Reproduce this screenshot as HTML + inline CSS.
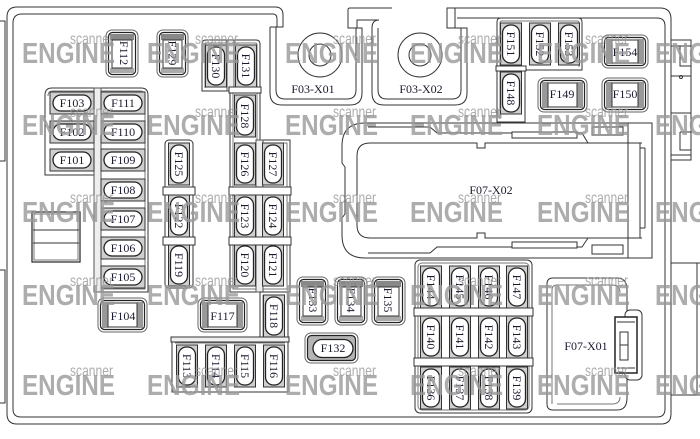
<!DOCTYPE html>
<html><head><meta charset="utf-8"><style>
html,body{margin:0;padding:0;background:#fff;}
svg{display:block;}
.l{fill:none;stroke:#333;stroke-width:1;}
.g{fill:none;stroke:#777;stroke-width:1;}
.t{font-family:"Liberation Serif",serif;font-size:12px;fill:#1a1a2e;text-anchor:middle;}
.wm{font-family:"Liberation Sans",sans-serif;font-weight:bold;font-size:29px;fill:#999;opacity:.8;}
.ws{font-family:"Liberation Sans",sans-serif;font-size:16px;fill:#999;opacity:.8;}
</style></head><body>
<svg width="700" height="439" viewBox="0 0 700 439" xmlns="http://www.w3.org/2000/svg">
<defs>
<g id="vs"><rect x="-10.5" y="-21" width="21" height="42" fill="#cfcfcf" stroke="#333"/><rect x="-8.5" y="-19" width="17" height="38" rx="8" fill="#fff" stroke="#222" stroke-width="1.3"/></g>
<g id="hs"><rect x="-22" y="-11" width="44" height="22" fill="#cfcfcf" stroke="#333"/><rect x="-19" y="-8" width="38" height="16" rx="8" fill="#fff" stroke="#222" stroke-width="1.3"/></g>
</defs>
<rect width="700" height="439" fill="#fff"/>

<!-- left exterior brackets -->
<path class="l" d="M0,21 L5,21 L5,161 L0,161"/>
<path class="l" d="M0,270 L5,270 L5,403 L0,403"/>

<!-- housing -->
<path class="l" d="M275,7 L17,7 Q7,7 7,17 L7,414 Q7,424 17,424 L661,424 Q671,424 671,414 L671,19 Q671,8 660,8 L455,8"/>
<path class="l" d="M273,14 L22,14 Q13,14 13,23 L13,409 Q13,417 21,417 L657,417 Q665,417 665,409 L665,26 Q665,18 657,18 L457,18"/>
<!-- pocket 1 -->
<path class="l" d="M275,7 Q283,7 283,15 L283,27 L270,27"/>
<path class="l" d="M273,14 Q277,14 277,19 L277,27"/>
<path class="l" d="M270,27 L270,93 Q270,105 282,105 L350,105 Q362,105 362,93 L362,28 L348,28 L348,10 Q348,8 350,8 L392,8"/>
<path class="l" d="M276,27 L276,90 Q276,99 285,99 L347,99 Q356,99 356,90 L356,28"/>
<path class="l" d="M357,28 L357,20 L379,20 Q372,20 372,28"/>
<!-- pocket 2 -->
<path class="l" d="M372,28 L372,93 Q372,105 384,105 L455,105 Q467,105 467,93 L467,28 L447,28 L447,8 L455,8 L455,28"/>
<path class="l" d="M378,28 L378,90 Q378,99 387,99 L452,99 Q461,99 461,90 L461,28"/>
<circle cx="320" cy="55" r="22" class="l"/><circle cx="320" cy="55" r="11" class="l"/>
<circle cx="420" cy="55" r="22" class="l"/><circle cx="420" cy="55" r="11" class="l"/>
<text class="t" x="313" y="93">F03-X01</text>
<text class="t" x="421" y="93">F03-X02</text>

<!-- right exterior -->
<path class="l" d="M671,40 L691,40 L691,160 L671,160"/>
<path class="l" d="M671,46 L691,46 M680,46 L680,66 L691,66 M671,76 L691,76 M671,113 L691,113 M680,132 L691,132 M680,132 L680,150 L691,150 M671,155 L691,155"/>
<circle cx="681" cy="77" r="1.5" class="l"/>
<path class="l" d="M671,263 L700,263 M671,395 L700,395 M697,263 L697,395"/>

<!-- left small box -->
<rect x="32" y="212" width="48" height="50" fill="#fff" stroke="#333" stroke-width="1.3"/>
<rect x="34" y="214" width="44" height="46" class="g"/>
<path class="l" d="M33,230 L79,230 M33,243 L79,243"/>

<!-- F101 block -->
<path d="M45,95 Q45,88 52,88 L141,88 Q148,88 148,95 L148,292 L97,292 L97,175 L45,175 Z" fill="#fff" stroke="#333"/>
<path class="g" d="M48,96 Q48,91 53,91 L140,91 Q145,91 145,96 L145,289 L100,289"/>
<rect x="94" y="88" width="7" height="204" fill="#eee" stroke="#555"/>
<use href="#hs" x="72" y="103"/><use href="#hs" x="72" y="132"/><use href="#hs" x="72" y="160"/>
<use href="#hs" x="123" y="103"/><use href="#hs" x="123" y="132"/><use href="#hs" x="123" y="160"/>
<use href="#hs" x="123" y="190"/><use href="#hs" x="123" y="219"/><use href="#hs" x="123" y="248"/><use href="#hs" x="123" y="277"/>
<text class="t" x="72" y="107">F103</text><text class="t" x="72" y="136">F102</text><text class="t" x="72" y="164">F101</text>
<text class="t" x="123" y="107">F111</text><text class="t" x="123" y="136">F110</text><text class="t" x="123" y="164">F109</text>
<text class="t" x="123" y="194">F108</text><text class="t" x="123" y="223">F107</text><text class="t" x="123" y="252">F106</text><text class="t" x="123" y="281">F105</text>

<!-- J-case vertical: F112, F129, F133, F134, F135 -->
<g>
<rect x="106" y="30" width="32" height="47" rx="6" fill="#fff" stroke="#666"/>
<rect x="108.5" y="32.5" width="27" height="42" rx="4" fill="#fff" stroke="#222" stroke-width="1.2"/>
<rect x="110" y="34" width="24" height="6" fill="#888"/><rect x="110" y="68" width="24" height="5" fill="#aaa"/>
<rect x="112" y="40" width="20" height="28" fill="#fff" stroke="#333"/>
</g>
<g>
<rect x="157" y="30" width="31" height="47" rx="6" fill="#fff" stroke="#666"/>
<rect x="159.5" y="32.5" width="26" height="42" rx="4" fill="#fff" stroke="#222" stroke-width="1.2"/>
<rect x="161" y="34" width="23" height="6" fill="#888"/><rect x="161" y="68" width="23" height="5" fill="#aaa"/>
<rect x="163" y="40" width="19" height="28" fill="#fff" stroke="#333"/>
</g>
<g>
<rect x="297" y="277" width="31" height="48" rx="6" fill="#fff" stroke="#666"/>
<rect x="299.5" y="279.5" width="26" height="43" rx="4" fill="#fff" stroke="#222" stroke-width="1.2"/>
<rect x="301" y="281" width="23" height="6" fill="#888"/><rect x="301" y="316" width="23" height="5" fill="#aaa"/>
<rect x="303" y="287" width="19" height="29" fill="#fff" stroke="#333"/>
</g>
<g>
<rect x="335" y="277" width="32" height="48" rx="6" fill="#fff" stroke="#666"/>
<rect x="337.5" y="279.5" width="27" height="43" rx="4" fill="#fff" stroke="#222" stroke-width="1.2"/>
<rect x="339" y="281" width="24" height="6" fill="#888"/><rect x="339" y="316" width="24" height="5" fill="#aaa"/>
<rect x="341" y="287" width="20" height="29" fill="#fff" stroke="#333"/>
</g>
<g>
<rect x="372" y="277" width="33" height="48" rx="6" fill="#fff" stroke="#666"/>
<rect x="374.5" y="279.5" width="28" height="43" rx="4" fill="#fff" stroke="#222" stroke-width="1.2"/>
<rect x="376" y="281" width="25" height="6" fill="#888"/><rect x="376" y="316" width="25" height="5" fill="#aaa"/>
<rect x="378" y="287" width="21" height="29" fill="#fff" stroke="#333"/>
</g>
<text class="t" transform="translate(124 53) rotate(90)" dy=".35em">F112</text>
<text class="t" transform="translate(172.5 53) rotate(90)" dy=".35em">F129</text>
<text class="t" transform="translate(313 300) rotate(90)" dy=".35em">F133</text>
<text class="t" transform="translate(351 300) rotate(90)" dy=".35em">F134</text>
<text class="t" transform="translate(388 300) rotate(90)" dy=".35em">F135</text>

<!-- J-case horizontal: F104, F117, F154, F149, F150, F132 -->
<g>
<rect x="98" y="298" width="49" height="34" rx="6" fill="#fff" stroke="#666"/>
<rect x="100.5" y="300.5" width="44" height="29" rx="4" fill="#fff" stroke="#222" stroke-width="1.2"/>
<rect x="102" y="302" width="6" height="26" fill="#999"/><rect x="137" y="302" width="6" height="26" fill="#999"/>
<rect x="108" y="303" width="29" height="24" fill="#fff" stroke="#333"/>
</g>
<g>
<rect x="198" y="298" width="49" height="34" rx="6" fill="#fff" stroke="#666"/>
<rect x="200.5" y="300.5" width="44" height="29" rx="4" fill="#fff" stroke="#222" stroke-width="1.2"/>
<rect x="202" y="302" width="6" height="26" fill="#999"/><rect x="237" y="302" width="6" height="26" fill="#999"/>
<rect x="208" y="303" width="29" height="24" fill="#fff" stroke="#333"/>
</g>
<g>
<rect x="602" y="35" width="46" height="33" rx="6" fill="#fff" stroke="#666"/>
<rect x="604.5" y="37.5" width="41" height="28" rx="4" fill="#fff" stroke="#222" stroke-width="1.2"/>
<rect x="606" y="39" width="6" height="25" fill="#999"/><rect x="638" y="39" width="6" height="25" fill="#999"/>
<rect x="612" y="40" width="26" height="23" fill="#fff" stroke="#333"/>
</g>
<g>
<rect x="538" y="78" width="49" height="34" rx="6" fill="#fff" stroke="#666"/>
<rect x="540.5" y="80.5" width="44" height="29" rx="4" fill="#fff" stroke="#222" stroke-width="1.2"/>
<rect x="542" y="82" width="6" height="26" fill="#999"/><rect x="577" y="82" width="6" height="26" fill="#999"/>
<rect x="548" y="83" width="29" height="24" fill="#fff" stroke="#333"/>
</g>
<g>
<rect x="602" y="78" width="46" height="34" rx="6" fill="#fff" stroke="#666"/>
<rect x="604.5" y="80.5" width="41" height="29" rx="4" fill="#fff" stroke="#222" stroke-width="1.2"/>
<rect x="606" y="82" width="6" height="26" fill="#999"/><rect x="638" y="82" width="6" height="26" fill="#999"/>
<rect x="612" y="83" width="26" height="24" fill="#fff" stroke="#333"/>
</g>
<g>
<rect x="305" y="333" width="53" height="30" rx="6" fill="#fff" stroke="#666"/>
<rect x="307.5" y="335.5" width="48" height="25" rx="4" fill="#b5b5b5" stroke="#222" stroke-width="1.2"/>
<rect x="313" y="339.5" width="40" height="18" rx="9" fill="#fff" stroke="#222" stroke-width="1.3"/>
</g>
<text class="t" x="123" y="320">F104</text>
<text class="t" x="222.5" y="320">F117</text>
<text class="t" x="625" y="56">F154</text>
<text class="t" x="562" y="98">F149</text>
<text class="t" x="625" y="98">F150</text>
<text class="t" x="333" y="352">F132</text>

<!-- F130/F128/F126 block -->
<path d="M202,44 Q202,40 206,40 L256,40 Q260,40 260,44 L260,140 L290,140 L290,292 L230,292 L230,91 L202,91 Z" fill="#fff" stroke="#333"/>
<path class="g" d="M205,88 L205,45 Q205,43 207,43 L255,43 Q257,43 257,45 L257,143 L287,143 L287,289 L233,289 L233,91"/>
<rect x="227" y="40" width="7" height="51" fill="#eee" stroke="#555"/>
<rect x="229" y="87" width="32" height="6" fill="#fff" stroke="#333"/>
<rect x="256" y="140" width="7" height="152" fill="#eee" stroke="#555"/>
<!-- F125 column -->
<rect x="165" y="140" width="28" height="148" rx="4" fill="#fff" stroke="#333"/>
<use href="#vs" x="216" y="66"/><use href="#vs" x="246" y="66"/><use href="#vs" x="245" y="116"/>
<use href="#vs" x="179" y="164"/><use href="#vs" x="179" y="216"/><use href="#vs" x="179" y="265"/>
<use href="#vs" x="245" y="164"/><use href="#vs" x="273" y="164"/>
<use href="#vs" x="245" y="216"/><use href="#vs" x="273" y="216"/>
<use href="#vs" x="245" y="265"/><use href="#vs" x="273" y="265"/>
<rect x="163" y="187" width="32" height="8" fill="#fff" stroke="#333"/>
<rect x="163" y="237" width="32" height="8" fill="#fff" stroke="#333"/>
<rect x="229" y="187" width="62" height="8" fill="#fff" stroke="#333"/>
<rect x="229" y="237" width="62" height="8" fill="#fff" stroke="#333"/>
<!-- F118 / F113 block -->
<path d="M260,292 L288,292 L288,392 L172,392 L172,340 L260,340 Z" fill="#fff" stroke="#333"/>
<path class="g" d="M175,343 L285,343 M263,295 L263,338"/>
<rect x="171" y="337" width="118" height="5" fill="#eee" stroke="#333"/>
<use href="#vs" x="274" y="316"/>
<use href="#vs" x="187" y="366"/><use href="#vs" x="216" y="366"/><use href="#vs" x="245" y="366"/><use href="#vs" x="274" y="366"/>

<text class="t" transform="translate(216 66) rotate(90)" dy=".35em">F130</text>
<text class="t" transform="translate(246 66) rotate(90)" dy=".35em">F131</text>
<text class="t" transform="translate(245 116) rotate(90)" dy=".35em">F128</text>
<text class="t" transform="translate(179 164) rotate(90)" dy=".35em">F125</text>
<text class="t" transform="translate(179 216) rotate(90)" dy=".35em">F122</text>
<text class="t" transform="translate(179 265) rotate(90)" dy=".35em">F119</text>
<text class="t" transform="translate(245 164) rotate(90)" dy=".35em">F126</text>
<text class="t" transform="translate(273 164) rotate(90)" dy=".35em">F127</text>
<text class="t" transform="translate(245 216) rotate(90)" dy=".35em">F123</text>
<text class="t" transform="translate(273 216) rotate(90)" dy=".35em">F124</text>
<text class="t" transform="translate(245 265) rotate(90)" dy=".35em">F120</text>
<text class="t" transform="translate(273 265) rotate(90)" dy=".35em">F121</text>
<text class="t" transform="translate(274 316) rotate(90)" dy=".35em">F118</text>
<text class="t" transform="translate(187 366) rotate(90)" dy=".35em">F113</text>
<text class="t" transform="translate(216 366) rotate(90)" dy=".35em">F114</text>
<text class="t" transform="translate(245 366) rotate(90)" dy=".35em">F115</text>
<text class="t" transform="translate(274 366) rotate(90)" dy=".35em">F116</text>

<!-- F151 block -->
<path d="M497,22 Q497,18 501,18 L578,18 Q582,18 582,22 L582,70 L525,70 L525,122 L497,122 Z" fill="#fff" stroke="#333"/>
<path class="g" d="M500,119 L500,23 Q500,21 502,21 L577,21 Q579,21 579,23 L579,67"/>
<use href="#vs" x="511" y="44"/><use href="#vs" x="540" y="44"/><use href="#vs" x="569" y="44"/>
<use href="#vs" x="511" y="93"/>
<rect x="496" y="66" width="30" height="5" fill="#fff" stroke="#333"/>
<text class="t" transform="translate(511 44) rotate(90)" dy=".35em">F151</text>
<text class="t" transform="translate(540 44) rotate(90)" dy=".35em">F152</text>
<text class="t" transform="translate(569 44) rotate(90)" dy=".35em">F153</text>
<text class="t" transform="translate(511 93) rotate(90)" dy=".35em">F148</text>

<!-- F07-X02 -->
<path d="M365,123 L652,123 L652,258 L365,258 Q342,258 342,235 L342,218 L345,214 L345,167 L342,163 L342,146 Q342,123 365,123 Z" fill="#fff" stroke="#333"/>
<path class="l" d="M368,127 L430,127 L437,133 L512,133 M368,253 L430,253 L437,247 L512,247"/>
<rect x="512" y="132" width="65" height="6" fill="#fff" stroke="#333"/>
<rect x="512" y="242" width="65" height="6" fill="#fff" stroke="#333"/>
<path class="l" d="M577,133 L582,133 L588,143 M577,247 L582,247 L588,238"/>
<rect x="592" y="127" width="31" height="8" fill="#fff" stroke="#333"/>
<rect x="592" y="245" width="31" height="9" fill="#fff" stroke="#333"/>
<path class="l" d="M642,143 L485,143 L485,148 L477,148 L477,143 L370,143 Q357,143 357,156 L357,225 Q357,238 370,238 L477,238 L477,233 L485,233 L485,238 L642,238"/>
<path class="l" d="M628,123 L628,258 M640,143 L640,238 M645,148 L645,228 M640,148 L645,148 M640,228 L645,228"/>
<text class="t" x="491" y="194">F07-X02</text>

<!-- F136-F147 block -->
<rect x="415" y="260" width="117" height="153" rx="5" fill="#fff" stroke="#333"/>
<rect x="418" y="263" width="111" height="147" rx="4" class="g"/>
<use href="#vs" x="431" y="287"/><use href="#vs" x="460" y="287"/><use href="#vs" x="489" y="287"/><use href="#vs" x="517" y="287"/>
<use href="#vs" x="431" y="337"/><use href="#vs" x="460" y="337"/><use href="#vs" x="489" y="337"/><use href="#vs" x="517" y="337"/>
<use href="#vs" x="431" y="388"/><use href="#vs" x="460" y="388"/><use href="#vs" x="489" y="388"/><use href="#vs" x="517" y="388"/>
<rect x="414" y="308" width="119" height="8" fill="#fff" stroke="#333"/>
<rect x="414" y="358" width="119" height="8" fill="#fff" stroke="#333"/>
<text class="t" transform="translate(431 287) rotate(90)" dy=".35em">F144</text>
<text class="t" transform="translate(460 287) rotate(90)" dy=".35em">F145</text>
<text class="t" transform="translate(489 287) rotate(90)" dy=".35em">F146</text>
<text class="t" transform="translate(517 287) rotate(90)" dy=".35em">F147</text>
<text class="t" transform="translate(431 337) rotate(90)" dy=".35em">F140</text>
<text class="t" transform="translate(460 337) rotate(90)" dy=".35em">F141</text>
<text class="t" transform="translate(489 337) rotate(90)" dy=".35em">F142</text>
<text class="t" transform="translate(517 337) rotate(90)" dy=".35em">F143</text>
<text class="t" transform="translate(431 388) rotate(90)" dy=".35em">F136</text>
<text class="t" transform="translate(460 388) rotate(90)" dy=".35em">F137</text>
<text class="t" transform="translate(489 388) rotate(90)" dy=".35em">F138</text>
<text class="t" transform="translate(517 388) rotate(90)" dy=".35em">F139</text>

<!-- F07-X01 -->
<path d="M553,278 L617,278 Q627,278 627,290 L627,398 Q627,410 617,410 L553,410 Q547,410 547,404 L547,284 Q547,278 553,278 Z" fill="#fff" stroke="#333"/>
<path class="g" d="M552,404 L552,290 Q552,285 557,285 L612,285 Q620,285 620,293"/>
<path class="g" d="M620,397 Q620,404 612,404 L557,404"/>
<rect x="625" y="310" width="17" height="70" rx="5" fill="#fff" stroke="#333"/>
<rect x="615" y="317" width="22" height="56" fill="#fff" stroke="#222" stroke-width="1.5"/>
<rect x="620" y="332" width="8" height="28" fill="#fff" stroke="#333"/>
<path class="l" d="M617,322 L635,322 M617,368 L635,368 M620,345 L628,345"/>
<text class="t" x="586" y="350">F07-X01</text>

<!-- watermarks -->
<g>
<text class="wm" x="22" y="63" textLength="93" lengthAdjust="spacingAndGlyphs">ENGINE</text>
<text class="wm" x="147" y="63" textLength="93" lengthAdjust="spacingAndGlyphs">ENGINE</text>
<text class="wm" x="285" y="63" textLength="93" lengthAdjust="spacingAndGlyphs">ENGINE</text>
<text class="wm" x="410" y="63" textLength="93" lengthAdjust="spacingAndGlyphs">ENGINE</text>
<text class="wm" x="537" y="63" textLength="93" lengthAdjust="spacingAndGlyphs">ENGINE</text>
<text class="wm" x="655" y="63" textLength="93" lengthAdjust="spacingAndGlyphs">ENGINE</text>
<text class="wm" x="22" y="135" textLength="93" lengthAdjust="spacingAndGlyphs">ENGINE</text>
<text class="wm" x="147" y="135" textLength="93" lengthAdjust="spacingAndGlyphs">ENGINE</text>
<text class="wm" x="285" y="135" textLength="93" lengthAdjust="spacingAndGlyphs">ENGINE</text>
<text class="wm" x="410" y="135" textLength="93" lengthAdjust="spacingAndGlyphs">ENGINE</text>
<text class="wm" x="537" y="135" textLength="93" lengthAdjust="spacingAndGlyphs">ENGINE</text>
<text class="wm" x="655" y="135" textLength="93" lengthAdjust="spacingAndGlyphs">ENGINE</text>
<text class="wm" x="22" y="222" textLength="93" lengthAdjust="spacingAndGlyphs">ENGINE</text>
<text class="wm" x="147" y="222" textLength="93" lengthAdjust="spacingAndGlyphs">ENGINE</text>
<text class="wm" x="285" y="222" textLength="93" lengthAdjust="spacingAndGlyphs">ENGINE</text>
<text class="wm" x="410" y="222" textLength="93" lengthAdjust="spacingAndGlyphs">ENGINE</text>
<text class="wm" x="537" y="222" textLength="93" lengthAdjust="spacingAndGlyphs">ENGINE</text>
<text class="wm" x="655" y="222" textLength="93" lengthAdjust="spacingAndGlyphs">ENGINE</text>
<text class="wm" x="22" y="305" textLength="93" lengthAdjust="spacingAndGlyphs">ENGINE</text>
<text class="wm" x="147" y="305" textLength="93" lengthAdjust="spacingAndGlyphs">ENGINE</text>
<text class="wm" x="285" y="305" textLength="93" lengthAdjust="spacingAndGlyphs">ENGINE</text>
<text class="wm" x="410" y="305" textLength="93" lengthAdjust="spacingAndGlyphs">ENGINE</text>
<text class="wm" x="537" y="305" textLength="93" lengthAdjust="spacingAndGlyphs">ENGINE</text>
<text class="wm" x="655" y="305" textLength="93" lengthAdjust="spacingAndGlyphs">ENGINE</text>
<text class="wm" x="22" y="395" textLength="93" lengthAdjust="spacingAndGlyphs">ENGINE</text>
<text class="wm" x="147" y="395" textLength="93" lengthAdjust="spacingAndGlyphs">ENGINE</text>
<text class="wm" x="285" y="395" textLength="93" lengthAdjust="spacingAndGlyphs">ENGINE</text>
<text class="wm" x="410" y="395" textLength="93" lengthAdjust="spacingAndGlyphs">ENGINE</text>
<text class="wm" x="537" y="395" textLength="93" lengthAdjust="spacingAndGlyphs">ENGINE</text>
<text class="wm" x="655" y="395" textLength="93" lengthAdjust="spacingAndGlyphs">ENGINE</text>

<text class="ws" x="70" y="44" textLength="43" lengthAdjust="spacingAndGlyphs">scanner</text>
<text class="ws" x="195" y="44" textLength="43" lengthAdjust="spacingAndGlyphs">scanner</text>
<text class="ws" x="333" y="44" textLength="43" lengthAdjust="spacingAndGlyphs">scanner</text>
<text class="ws" x="458" y="44" textLength="43" lengthAdjust="spacingAndGlyphs">scanner</text>
<text class="ws" x="585" y="44" textLength="43" lengthAdjust="spacingAndGlyphs">scanner</text>
<text class="ws" x="70" y="117" textLength="43" lengthAdjust="spacingAndGlyphs">scanner</text>
<text class="ws" x="195" y="117" textLength="43" lengthAdjust="spacingAndGlyphs">scanner</text>
<text class="ws" x="333" y="117" textLength="43" lengthAdjust="spacingAndGlyphs">scanner</text>
<text class="ws" x="458" y="117" textLength="43" lengthAdjust="spacingAndGlyphs">scanner</text>
<text class="ws" x="585" y="117" textLength="43" lengthAdjust="spacingAndGlyphs">scanner</text>
<text class="ws" x="70" y="203" textLength="43" lengthAdjust="spacingAndGlyphs">scanner</text>
<text class="ws" x="195" y="203" textLength="43" lengthAdjust="spacingAndGlyphs">scanner</text>
<text class="ws" x="333" y="203" textLength="43" lengthAdjust="spacingAndGlyphs">scanner</text>
<text class="ws" x="458" y="203" textLength="43" lengthAdjust="spacingAndGlyphs">scanner</text>
<text class="ws" x="585" y="203" textLength="43" lengthAdjust="spacingAndGlyphs">scanner</text>
<text class="ws" x="70" y="286" textLength="43" lengthAdjust="spacingAndGlyphs">scanner</text>
<text class="ws" x="195" y="286" textLength="43" lengthAdjust="spacingAndGlyphs">scanner</text>
<text class="ws" x="333" y="286" textLength="43" lengthAdjust="spacingAndGlyphs">scanner</text>
<text class="ws" x="458" y="286" textLength="43" lengthAdjust="spacingAndGlyphs">scanner</text>
<text class="ws" x="585" y="286" textLength="43" lengthAdjust="spacingAndGlyphs">scanner</text>
<text class="ws" x="70" y="376" textLength="43" lengthAdjust="spacingAndGlyphs">scanner</text>
<text class="ws" x="195" y="376" textLength="43" lengthAdjust="spacingAndGlyphs">scanner</text>
<text class="ws" x="333" y="376" textLength="43" lengthAdjust="spacingAndGlyphs">scanner</text>
<text class="ws" x="458" y="376" textLength="43" lengthAdjust="spacingAndGlyphs">scanner</text>
<text class="ws" x="585" y="376" textLength="43" lengthAdjust="spacingAndGlyphs">scanner</text>
</g>
</svg>
</body></html>
